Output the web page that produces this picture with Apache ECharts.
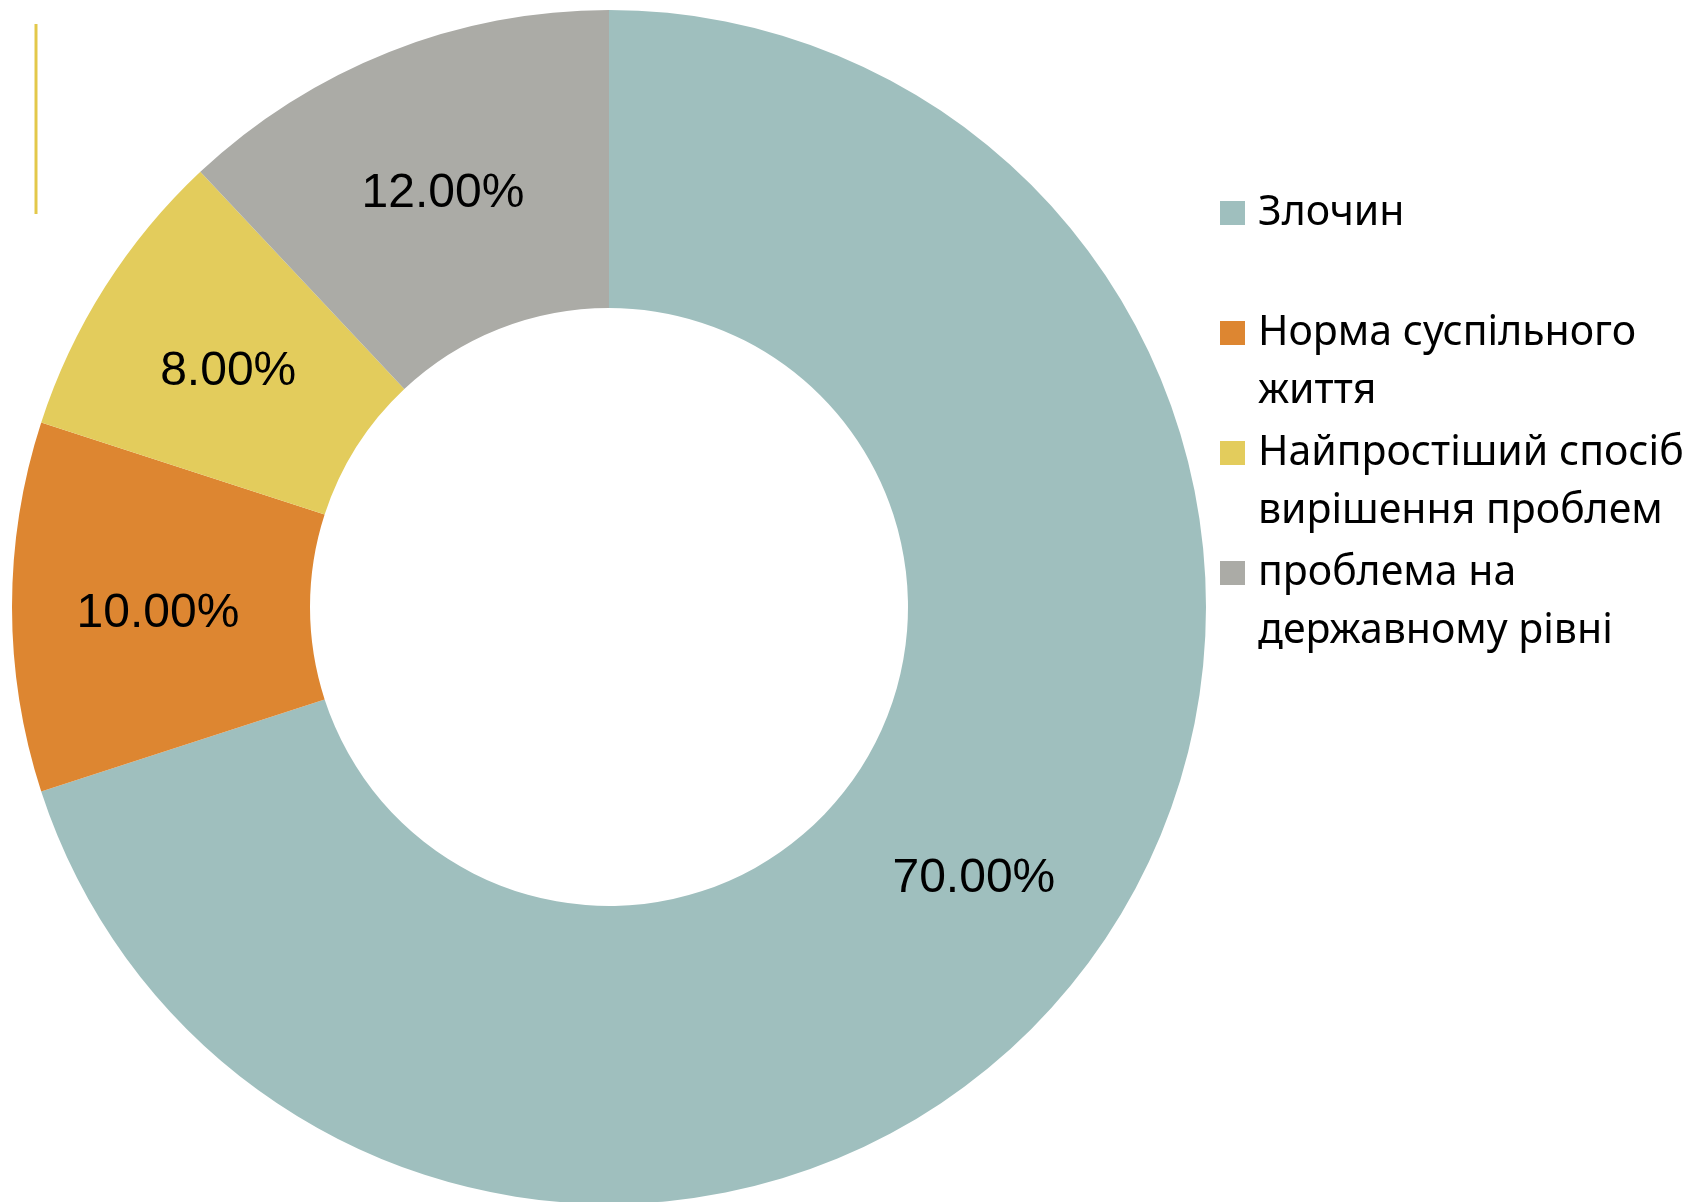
<!DOCTYPE html>
<html>
<head>
<meta charset="utf-8">
<script src="https://cdn.jsdelivr.net/npm/echarts@6/dist/echarts.min.js"></script>
<style>
    html, body { margin: 0; padding: 0; background: #fff; }
    #chart { width: 1692px; height: 1202px; }
</style>
</head>
<body>
<div id="chart"></div>
<script>
"use strict";

const categories = ['Злочин', 'Норма суспільного життя', 'Найпростіший спосіб вирішення проблем', 'проблема на державному рівні'];
const legend_lines = [
    ['Злочин'],
    ['Норма суспільного', 'життя'],
    ['Найпростіший спосіб', 'вирішення проблем'],
    ['проблема на', 'державному рівні']
];
const shares = [70, 10, 8, 12];
const colors = ['#9fbfbe', '#dd8631', '#e3cc5c', '#ababa6'];

const line_h = 58;

const chartDom = document.getElementById('chart');
const myChart = echarts.init(chartDom, null, { renderer: 'canvas' });

const data_set = categories.map((name, i) => ({
    value: shares[i],
    name: name,
    itemStyle: { color: colors[i] }
}));

// legend text is centred on the icon, so pad every entry to 3 lines
// with the first real line in the middle (icon sits on first line)
const legend_text = name => {
    const lines = legend_lines[categories.indexOf(name)];
    return '\n' + lines[0] + '\n' + (lines[1] || '');
};

let option = {
    animation: false,
    backgroundColor: '#fff',
    legend: {
        orient: 'vertical',
        left: 1220,
        top: 201 - (1.5 * line_h - 12),
        padding: 0,
        itemGap: 120 - 3 * line_h,
        itemWidth: 25,
        itemHeight: 24,
        icon: 'rect',
        data: categories,
        formatter: legend_text,
        textStyle: {
            fontFamily: 'Noto Sans',
            fontSize: 41,
            lineHeight: line_h,
            padding: [0, 0, 0, 8],
            color: '#000'
        }
    },
    graphic: [
        {
            type: 'line',
            shape: { x1: 36, y1: 24, x2: 36, y2: 214 },
            style: { stroke: '#e3c84a', lineWidth: 3 }
        }
    ],
    series: [
        {
            type: 'pie',
            center: [609, 607],
            radius: [299, 597],
            startAngle: 90,
            clockwise: true,
            avoidLabelOverlap: false,
            itemStyle: { borderWidth: 0 },
            label: {
                position: 'inside',
                formatter: p => '{v|' + p.value.toFixed(2) + '%}',
                rich: {
                    v: {
                        fontFamily: 'Liberation Sans',
                        fontSize: 48,
                        color: '#000',
                        padding: [13, 0, 0, 0]
                    }
                }
            },
            labelLine: { show: false },
            emphasis: { disabled: true },
            data: data_set
        }
    ]
};

option && myChart.setOption(option);
</script>
</body>
</html>
